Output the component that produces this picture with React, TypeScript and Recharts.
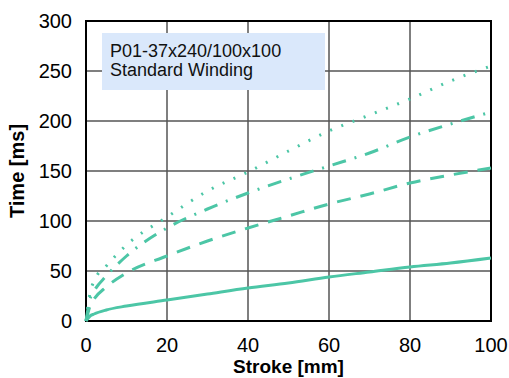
import { LineChart, Line, XAxis, YAxis, CartesianGrid, ReferenceArea, Label } from "recharts";

const STROKE = [0, 1, 2, 5, 10, 20, 30, 40, 50, 60, 70, 80, 90, 100];
const SOLID = [0, 5, 7, 11, 15, 21, 27, 33, 38, 44, 49, 54, 58, 63];
const DASHED = [0, 15, 22, 34, 48, 65, 80, 93, 105, 117, 127, 138, 146, 153];
const DASH_DOT = [0, 22, 30, 45, 65, 93, 112, 128, 142, 155, 168, 184, 197, 209];
const DOTTED = [0, 28, 40, 55, 76, 104, 130, 149, 170, 190, 206, 222, 240, 255];
const X_TICKS = [0, 20, 40, 60, 80, 100];
const Y_TICKS = [0, 50, 100, 150, 200, 250, 300];

const data = STROKE.map((s, i) => ({
  stroke: s,
  solid: SOLID[i],
  dashed: DASHED[i],
  dashdot: DASH_DOT[i],
  dotted: DOTTED[i],
}));

const COLOR = "#4cc6a6";
const FONT = "'Liberation Sans', Arial, sans-serif";
const tick = { fill: "#000", fontSize: 20, fontFamily: FONT };
const titleStyle = { fill: "#000", fontSize: 19, fontWeight: "bold", fontFamily: FONT };

export default function App() {
  return (
    <div style={{ position: "absolute", left: 0, top: 0, width: 509, height: 378, background: "#fff" }}>
      <LineChart width={509} height={378} data={data} margin={{ top: 21, right: 18, bottom: 25, left: 0 }}>
        <CartesianGrid stroke="#555" strokeWidth={1.5} />
        <XAxis
          dataKey="stroke"
          type="number"
          domain={[0, 100]}
          ticks={X_TICKS}
          tickLine={false}
          axisLine={false}
          tickMargin={11}
          height={32}
          tick={tick}
        >
          <Label value="Stroke [mm]" position="insideBottom" offset={-20} style={titleStyle} />
        </XAxis>
        <YAxis
          type="number"
          domain={[0, 300]}
          ticks={Y_TICKS}
          tickLine={false}
          axisLine={false}
          tickMargin={8}
          width={86}
          tick={tick}
        >
          <Label value="Time [ms]" angle={-90} position="insideLeft" offset={17} style={{ ...titleStyle, fontSize: 20, textAnchor: "middle" }} />
        </YAxis>
        <Line dataKey="solid" type="monotone" stroke={COLOR} strokeWidth={3} dot={false} isAnimationActive={false} />
        <Line dataKey="dashed" type="monotone" stroke={COLOR} strokeWidth={3} strokeDasharray="14 10" dot={false} isAnimationActive={false} />
        <Line dataKey="dashdot" type="monotone" stroke={COLOR} strokeWidth={3} strokeDasharray="14 9 2 9" dot={false} isAnimationActive={false} />
        <Line dataKey="dotted" type="monotone" stroke={COLOR} strokeWidth={3} strokeDasharray="2 10" dot={false} isAnimationActive={false} />
        <ReferenceArea x1={0} x2={100} y1={0} y2={300} fill="none" stroke="#000" strokeWidth={2} ifOverflow="visible" />
      </LineChart>
      <div
        style={{
          position: "absolute",
          left: 102,
          top: 33,
          width: 223,
          height: 57,
          background: "#dae8fb",
          fontFamily: FONT,
          fontSize: 18,
          lineHeight: "19px",
          color: "#111",
          boxSizing: "border-box",
          padding: "9px 0 0 8px",
        }}
      >
        P01-37x240/100x100
        <br />
        Standard Winding
      </div>
    </div>
  );
}
